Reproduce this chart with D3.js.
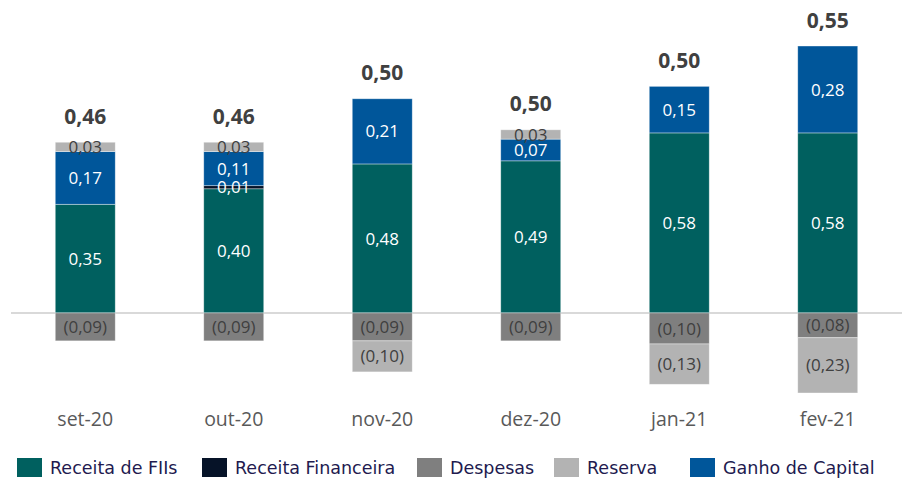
<!DOCTYPE html>
<html>
<head>
<meta charset="utf-8">
<script src="https://cdn.jsdelivr.net/npm/d3@7"></script>
<style>
  body { margin: 0; background: #fff; }
  svg { display: block; }
</style>
</head>
<body>
<svg id="chart" width="902" height="482"></svg>
<script>
// months on the x axis
const months = ['set-20', 'out-20', 'nov-20', 'dez-20', 'jan-21', 'fev-21'];

// R$ per cota, per component
const receitaFIIs = [0.35, 0.40, 0.48, 0.49, 0.58, 0.58];
const receitaFinanceira = [0, 0.01, 0, 0, 0, 0];
const ganhoCapital = [0.17, 0.11, 0.21, 0.07, 0.15, 0.28];
const reserva = [0.03, 0.03, -0.10, 0.03, -0.13, -0.23];
const despesas = [-0.09, -0.09, -0.09, -0.09, -0.10, -0.08];
const totals = [0.46, 0.46, 0.50, 0.50, 0.50, 0.55];

const series = [
    { name: 'Receita de FIIs', values: receitaFIIs, color: '#00605f', text: '#fff' },
    { name: 'Receita Financeira', values: receitaFinanceira, color: '#061328', text: '#fff' },
    { name: 'Despesas', values: despesas, color: '#7f7f7f', text: '#404040' },
    { name: 'Reserva', values: reserva, color: '#b3b3b3', text: '#404040' },
    { name: 'Ganho de Capital', values: ganhoCapital, color: '#00569a', text: '#fff' }
];
// order in which pieces get stacked
const posOrder = ['Receita de FIIs', 'Receita Financeira', 'Ganho de Capital', 'Reserva'];
const negOrder = ['Despesas', 'Reserva'];

const svg = d3.select('#chart');
const fmt = v => d3.format('.2f')(Math.abs(v)).replace('.', ',');

const x = d3.scaleBand()
    .domain(months)
    .range([11, 902])
    .paddingInner(0.596)
    .paddingOuter(0.298);

// axis minimum is fixed, so the deepest bar gets cut off (as in the original)
const y = d3.scaleLinear()
    .domain([-0.258, 0.86])
    .range([393, 46])
    .clamp(true);

// build the stacked pieces
const pieces = [];
months.forEach((m, i) => {
    let up = 0, down = 0;
    posOrder.forEach(name => {
        const s = series.find(d => d.name === name);
        const v = s.values[i];
        if (v > 0) {
            pieces.push({ month: m, s, v, y0: up, y1: up + v });
            up += v;
        }
    });
    negOrder.forEach(name => {
        const s = series.find(d => d.name === name);
        const v = s.values[i];
        if (v < 0) {
            pieces.push({ month: m, s, v, y0: down + v, y1: down });
            down += v;
        }
    });
    pieces.push({ month: m, top: up, total: totals[i] });
});

const bars = pieces.filter(d => d.s);

// zero line
svg.append('line')
    .attr('x1', 11).attr('x2', 902)
    .attr('y1', y(0)).attr('y2', y(0))
    .attr('stroke', '#d9d9d9')
    .attr('stroke-width', 2);

svg.append('g').selectAll('rect')
    .data(bars)
    .enter().append('rect')
    .attr('x', d => x(d.month))
    .attr('width', x.bandwidth())
    .attr('y', d => y(d.y1))
    .attr('height', d => y(d.y0) - y(d.y1))
    .attr('fill', d => d.s.color)
    .attr('stroke', '#fff')
    .attr('stroke-opacity', 0.5)
    .attr('stroke-width', 0.75);

svg.append('g').selectAll('text')
    .data(bars)
    .enter().append('text')
    .attr('x', d => x(d.month) + x.bandwidth() / 2)
    .attr('y', d => (y(d.y0) + y(d.y1)) / 2)
    .attr('dy', '0.36em')
    .attr('text-anchor', 'middle')
    .attr('font-family', '"Open Sans", sans-serif')
    .attr('font-size', 17)
    .attr('fill', d => d.s.text)
    .text(d => d.v < 0 ? '(' + fmt(d.v) + ')' : fmt(d.v));

// totals above each bar
svg.append('g').selectAll('text')
    .data(pieces.filter(d => d.total !== undefined))
    .enter().append('text')
    .attr('x', d => x(d.month) + x.bandwidth() / 2)
    .attr('y', d => y(d.top) - 26)
    .attr('dy', '0.36em')
    .attr('text-anchor', 'middle')
    .attr('font-family', '"Open Sans", sans-serif')
    .attr('font-weight', 'bold')
    .attr('font-size', 21)
    .attr('fill', '#404040')
    .text(d => fmt(d.total));

// month labels
svg.append('g').selectAll('text')
    .data(months)
    .enter().append('text')
    .attr('x', d => x(d) + x.bandwidth() / 2)
    .attr('y', 419)
    .attr('dy', '0.36em')
    .attr('text-anchor', 'middle')
    .attr('font-family', '"Open Sans", sans-serif')
    .attr('font-size', 19.5)
    .attr('fill', '#595959')
    .text(d => d);

// legend
const legendX = [17, 202, 417, 554, 690];
const legend = svg.append('g').selectAll('g')
    .data(series)
    .enter().append('g')
    .attr('transform', (d, i) => `translate(${legendX[i]},458)`);

legend.append('rect')
    .attr('width', 25)
    .attr('height', 19)
    .attr('fill', d => d.color);

legend.append('text')
    .attr('x', 33)
    .attr('y', 10)
    .attr('dy', '0.36em')
    .attr('font-family', '"DejaVu Sans", sans-serif')
    .attr('font-size', 17.5)
    .attr('fill', '#221a4f')
    .text(d => d.name);
</script>
</body>
</html>
